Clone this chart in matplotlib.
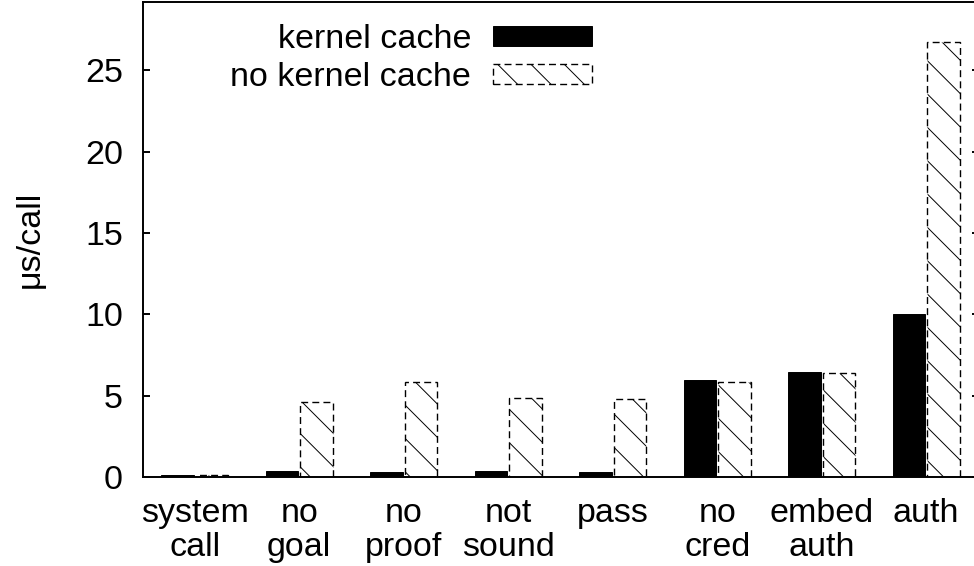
import matplotlib
matplotlib.use("Agg")
import matplotlib.pyplot as plt
from matplotlib.patches import Patch
import numpy as np

categories = ["system\ncall", "no\ngoal", "no\nproof", "not\nsound", "pass",
              "no\ncred", "embed\nauth", "auth"]
kernel_cache = [0.15, 0.39, 0.31, 0.39, 0.31, 5.95, 6.43, 10.0]
no_kernel_cache = [0.15, 4.64, 5.85, 4.87, 4.77, 5.81, 6.37, 26.75]
yticks = [0, 5, 10, 15, 20, 25]
series_labels = ["kernel cache", "no kernel cache"]

DPI = 100
W, H = 974, 566
plt.rcParams['font.family'] = ['Liberation Sans', 'DejaVu Sans']
plt.rcParams['hatch.linewidth'] = 0.7
FS = 24.5

fig = plt.figure(figsize=(W / DPI, H / DPI), dpi=DPI)
ax_left, ax_right, ax_bottom, ax_top = 142.5, 978.5, 477, 2
ax = fig.add_axes([ax_left / W, 1 - ax_bottom / H,
                   (ax_right - ax_left) / W, (ax_bottom - ax_top) / H])

x = np.arange(len(categories))
bw = 0.31
off = 0.165
dash = (0, (5, 3))
ax.bar(x - off, kernel_cache, bw, color='black', edgecolor='black',
       linewidth=0.7, label=series_labels[0], zorder=2)
ax.bar(x + off, no_kernel_cache, bw, facecolor='white', edgecolor='black',
       linewidth=1.0, linestyle=dash, hatch='\\',
       label=series_labels[1], zorder=2)

ax.set_xlim(-0.5, len(categories) - 0.5)
ax.set_ylim(0, 29.2)
ax.set_yticks(yticks)
ax.set_xticks(x)
ax.set_xticklabels(categories, fontsize=FS, linespacing=1.15)
ax.tick_params(axis='x', length=0, pad=15)
ax.tick_params(axis='y', direction='in', length=5.3, width=1.4, pad=14,
               labelsize=FS, right=True)
for s in ax.spines.values():
    s.set_linewidth(1.4)

ax.set_ylabel("μs/call", fontsize=FS, va='center')
ax.yaxis.set_label_coords((30 - ax_left) / (ax_right - ax_left), 0.5)

handles = [Patch(facecolor='black', edgecolor='black', linewidth=0.7),
           Patch(facecolor='white', edgecolor='black', linewidth=1.0,
                 linestyle=dash, hatch='\\')]
fig.legend(handles, series_labels, loc='upper right',
           bbox_to_anchor=(592 / W, 1 - 24 / H), frameon=False,
           markerfirst=False, fontsize=FS, handlelength=2.9,
           handleheight=0.55, handletextpad=0.65, labelspacing=0.2,
           borderpad=0, borderaxespad=0)

fig.savefig("out.png", dpi=DPI)
